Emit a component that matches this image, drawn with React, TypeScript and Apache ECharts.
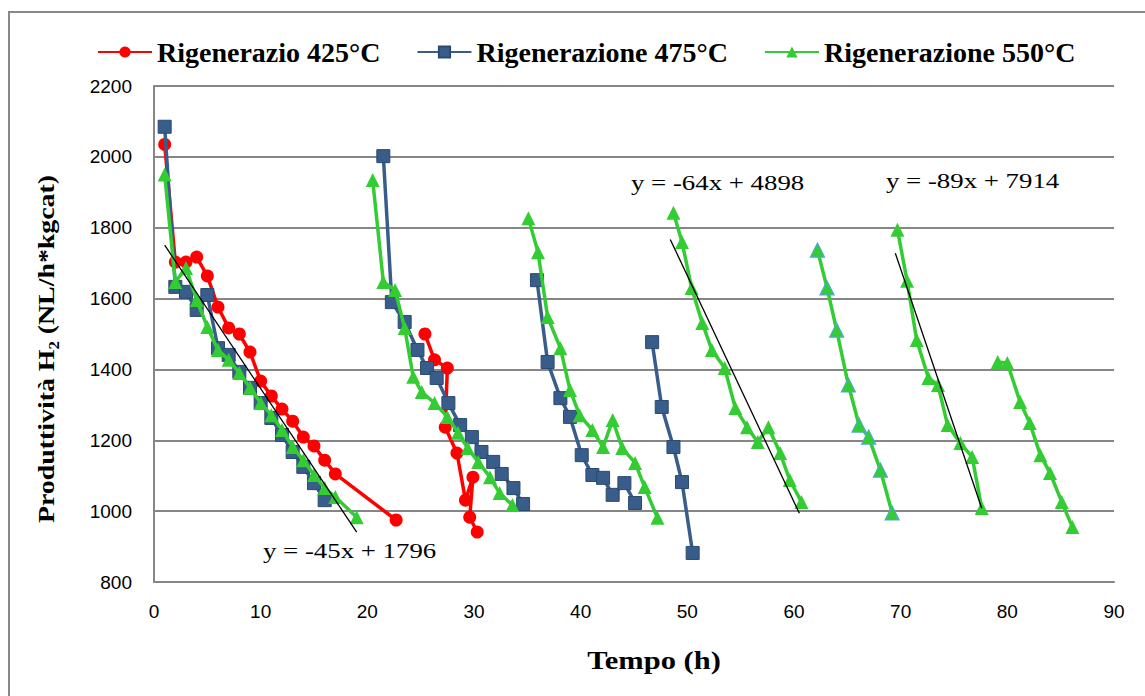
import React, { useEffect, useRef } from "react";
import * as echarts from "echarts";

// ---- Data (Tempo h, Produttività NL/h*kgcat) ----
const redT1 = [1, 2, 3, 4, 5, 6, 7, 8, 9, 10, 11, 12, 13, 14, 15, 16, 17, 22.7];
const redV1 = [2035, 1703, 1703, 1717, 1664, 1576, 1517, 1500, 1449, 1367, 1325, 1288, 1254, 1209, 1184, 1144, 1105, 975];
const redT2 = [25.4, 26.3, 27.5, 27.3, 28.4, 29.2, 29.9, 29.6, 30.3];
const redV2 = [1500, 1427, 1404, 1237, 1164, 1031, 1096, 983, 941];

const blueT1 = [1, 2, 3, 4, 5, 6, 7, 8, 9, 10, 11, 12, 13, 14, 15, 16];
const blueV1 = [2085, 1633, 1619, 1568, 1610, 1460, 1441, 1393, 1348, 1305, 1263, 1215, 1167, 1125, 1079, 1031];
const blueT2 = [21.5, 22.3, 23.5, 24.7, 25.6, 26.5, 27.6, 28.7, 29.8, 30.7, 31.8, 32.6, 33.7, 34.6];
const blueV2 = [2002, 1590, 1534, 1455, 1404, 1376, 1305, 1243, 1209, 1167, 1139, 1105, 1065, 1020];
const blueT3 = [35.9, 36.9, 38.1, 39.0, 40.1, 41.1, 42.1, 43.0, 44.1, 45.1];
const blueV3 = [1652, 1421, 1319, 1266, 1158, 1102, 1094, 1046, 1079, 1023];
const blueT4 = [46.7, 47.6, 48.7, 49.5, 50.5];
const blueV4 = [1477, 1294, 1181, 1082, 882];

const greenT1 = [1, 2, 3, 4, 5, 6, 7, 8, 9, 10, 11, 12, 13, 14, 15, 16, 17, 19];
const greenV1 = [1950, 1647, 1686, 1596, 1520, 1455, 1427, 1390, 1348, 1305, 1271, 1229, 1181, 1144, 1102, 1065, 1040, 983];
const greenT2 = [20.5, 21.5, 22.6, 23.5, 24.3, 25.1, 26.3, 27.5, 28.5, 29.4, 30.4, 31.5, 32.4, 33.6];
const greenV2 = [1935, 1647, 1624, 1517, 1379, 1336, 1305, 1266, 1221, 1178, 1139, 1096, 1051, 1017];
const greenT3 = [35.1, 36.0, 36.9, 38.1, 39.0, 39.9, 41.1, 42.1, 43.0, 43.9, 45.1, 46.0, 47.2];
const greenV3 = [1827, 1731, 1548, 1460, 1342, 1271, 1229, 1181, 1257, 1178, 1136, 1068, 981];
const greenT4 = [48.7, 49.5, 50.4, 51.4, 52.3, 53.5, 54.5, 55.6, 56.6, 57.6, 58.7, 59.6, 60.7];
const greenV4 = [1842, 1760, 1630, 1531, 1455, 1404, 1291, 1237, 1195, 1237, 1164, 1088, 1026];
const greenT5 = [62.2, 63.1, 64.0, 65.1, 66.1, 67.0, 68.1, 69.2];
const greenV5 = [1737, 1630, 1511, 1356, 1243, 1209, 1116, 995];
const greenT6 = [69.7, 70.6, 71.5, 72.6, 73.5, 74.4, 75.6, 76.7, 77.6];
const greenV6 = [1794, 1650, 1483, 1376, 1356, 1243, 1192, 1153, 1009];
const greenT7 = [79.1, 80.0, 81.2, 82.1, 83.1, 84.0, 85.1, 86.1];
const greenV7 = [1421, 1418, 1308, 1249, 1158, 1108, 1026, 955];

// trendlines (endpoints)
const trend1T = [1, 19];
const trend1V = [1751, 941];
const trend2T = [48.4, 60.5];
const trend2V = [1767, 994];
const trend3T = [69.5, 77.6];
const trend3V = [1728, 1008];

const trendLabels = ["y = -45x + 1796", "y = -64x + 4898", "y = -89x + 7914"];

const seriesNames = ["Rigenerazio 425°C", "Rigenerazione 475°C", "Rigenerazione 550°C"];
const xTitle = "Tempo (h)";
const yTitle = "Produttività H₂ (NL/h*kgcat)";

const RED = "#FF0000";
const BLUE = "#385D8A";
const GREEN = "#33CC33";

const pairs = (t: number[], v: number[]) => t.map((x, i) => [x, v[i]]);

export default function App() {
  const ref = useRef<HTMLDivElement>(null);
  useEffect(() => {
    if (!ref.current) return;
    const chart = echarts.init(ref.current, undefined, { renderer: "svg" });
    const serif = "'Liberation Serif', 'Times New Roman', serif";
    const tickFont = "'Liberation Sans Narrow', 'Liberation Sans', sans-serif";

    const redSeg = (t: number[], v: number[]) => ({
      name: seriesNames[0],
      type: "line",
      data: pairs(t, v),
      symbol: "circle",
      symbolSize: 13,
      lineStyle: { color: RED, width: 3.5 },
      itemStyle: { color: RED },
      z: 2,
    });
    const blueSeg = (t: number[], v: number[]) => ({
      name: seriesNames[1],
      type: "line",
      data: pairs(t, v),
      symbol: "rect",
      symbolSize: 13,
      lineStyle: { color: BLUE, width: 3.5 },
      itemStyle: { color: BLUE, borderColor: "#2A4A70", borderWidth: 1 },
      z: 3,
    });
    const greenSeg = (t: number[], v: number[], edge?: string) => ({
      name: seriesNames[2],
      type: "line",
      data: pairs(t, v),
      symbol: "triangle",
      symbolSize: 14,
      lineStyle: { color: GREEN, width: 3.5 },
      itemStyle: edge ? { color: GREEN, borderColor: edge, borderWidth: 1.2 } : { color: GREEN },
      z: 4,
    });
    const trend = (t: number[], v: number[]) => ({
      type: "line",
      data: pairs(t, v),
      symbol: "none",
      lineStyle: { color: "#000", width: 1.3 },
      z: 5,
      silent: true,
    });
    const eq = (text: string, x: number, y: number) => ({
      type: "text",
      x,
      y,
      scaleX: 1.22,
      style: { text, fontFamily: serif, fontSize: 22, fill: "#000", align: "left", verticalAlign: "middle" },
    });

    chart.setOption({
      animation: false,
      backgroundColor: "#fff",
      grid: { left: 154, right: 31, top: 86, bottom: 114, containLabel: false },
      legend: {
        data: seriesNames,
        top: 33,
        left: 92,
        itemWidth: 54,
        itemHeight: 14,
        itemGap: 36,
        textStyle: { fontFamily: serif, fontWeight: "bold", fontSize: 28, color: "#000" },
      },
      xAxis: {
        type: "value",
        min: 0,
        max: 90,
        interval: 10,
        axisLine: { lineStyle: { color: "#868686", width: 2 } },
        axisTick: { show: false },
        splitLine: { show: false },
        axisLabel: { margin: 20, fontFamily: tickFont, fontSize: 19, color: "#000" },
      },
      yAxis: {
        type: "value",
        min: 800,
        max: 2200,
        interval: 200,
        axisLine: { show: true, lineStyle: { color: "#868686", width: 2 } },
        axisTick: { show: false },
        splitLine: { lineStyle: { color: "#868686", width: 2 } },
        axisLabel: {
          margin: 22,
          fontFamily: tickFont,
          fontSize: 19,
          color: "#000",
          formatter: (v: number) => String(v),
        },
      },
      graphic: [
        {
          type: "rect",
          shape: { x: 9, y: 12, width: 1200, height: 760 },
          style: { fill: "none", stroke: "#888", lineWidth: 2 },
          silent: true,
        },
        {
          type: "text",
          x: 46,
          y: 349,
          rotation: Math.PI / 2,
          scaleX: 1.16,
          style: {
            text: yTitle,
            fontFamily: serif,
            fontWeight: "bold",
            fontSize: 24,
            fill: "#000",
            align: "center",
            verticalAlign: "middle",
          },
        },
        {
          type: "text",
          x: 654,
          y: 660,
          scaleX: 1.22,
          style: {
            text: xTitle,
            fontFamily: serif,
            fontWeight: "bold",
            fontSize: 25,
            fill: "#000",
            align: "center",
            verticalAlign: "middle",
          },
        },
        eq(trendLabels[0], 263, 550),
        eq(trendLabels[1], 631, 182),
        eq(trendLabels[2], 886, 180),
      ],
      series: [
        redSeg(redT1, redV1),
        redSeg(redT2, redV2),
        blueSeg(blueT1, blueV1),
        blueSeg(blueT2, blueV2),
        blueSeg(blueT3, blueV3),
        blueSeg(blueT4, blueV4),
        greenSeg(greenT1, greenV1),
        greenSeg(greenT2, greenV2),
        greenSeg(greenT3, greenV3),
        greenSeg(greenT4, greenV4),
        greenSeg(greenT5, greenV5, "#4BACC6"),
        greenSeg(greenT6, greenV6),
        greenSeg(greenT7, greenV7),
        trend(trend1T, trend1V),
        trend(trend2T, trend2V),
        trend(trend3T, trend3V),
      ],
    });
    return () => chart.dispose();
  }, []);
  return (
    <div
      ref={ref}
      style={{ position: "fixed", left: 0, top: 0, width: 1145, height: 696, background: "#fff" }}
    />
  );
}
